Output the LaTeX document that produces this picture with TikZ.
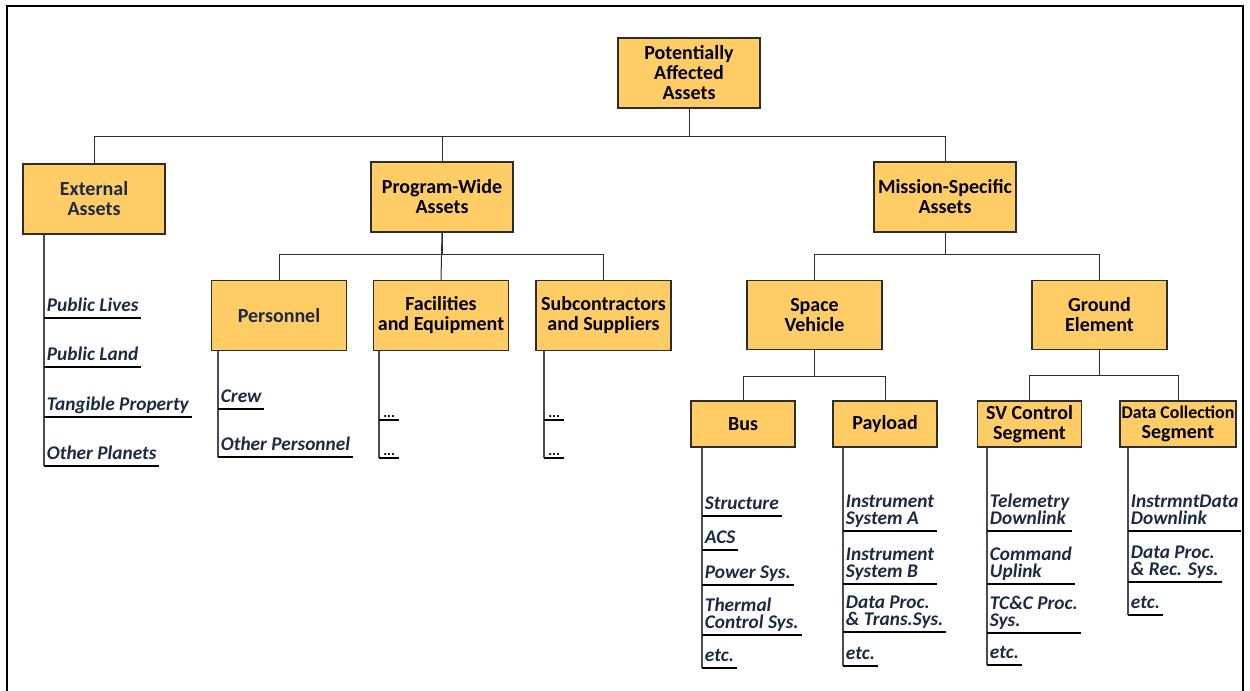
\documentclass[tikz,border=0pt]{standalone}
\usepackage{fontspec}
\setmainfont{Carlito}
\usepackage{xcolor}
\usetikzlibrary{positioning}
\definecolor{boxfill}{RGB}{255,204,102}
\definecolor{navy}{RGB}{28,42,70}
\definecolor{edge}{RGB}{45,45,45}

\begin{document}
\begin{tikzpicture}[x=0.75pt, y=-0.75pt,
    asset/.style={rectangle, draw=edge, fill=boxfill, line width=0.9pt, align=center, inner sep=1pt,
                  minimum width=106.5pt, minimum height=52.5pt, font=\fontsize{15}{15}\selectfont\bfseries},
    mid/.style={minimum width=101.25pt, minimum height=52pt},
    small/.style={minimum width=78pt, minimum height=34.5pt},
    item/.style={anchor=south west, align=left, inner xsep=2pt, inner ysep=4.5pt, text depth=0pt,
                 text=navy, font=\fontsize{14.5}{13.3}\selectfont\bfseries\itshape},
    dots/.style={item, text=black, font=\fontsize{11}{11}\selectfont\bfseries, inner xsep=3pt, inner ysep=2pt},
    link/.style={draw=edge, line width=0.75pt},
    stem/.style={draw=edge!85, line width=0.9pt},
    uline/.style={draw=black, line width=1.3pt}
]
\useasboundingbox (0,0) rectangle (1250,691);
\draw[black, line width=1.1pt] (7,691) -- (7,6) -- (1243,6) -- (1243,691);

% tree boxes
\node[asset]                        (top)    at (689,73)    {Potentially\\Affected\\Assets};
\node[asset, text=navy]             (ext)    at (94,199)    {External\\Assets};
\node[asset]                        (prog)   at (442,197)   {Program-Wide\\Assets};
\node[asset]                        (miss)   at (945,197)   {Mission-Specific\\Assets};
\node[asset, mid, text=navy]        (pers)   at (279,315.5) {Personnel};
\node[asset, mid]                   (fac)    at (441,315.5) {Facilities\\and Equipment};
\node[asset, mid]                   (sub)    at (603.5,315.5) {Subcontractors\\and Suppliers};
\node[asset, mid]                   (sv)     at (814.5,315) {Space\\Vehicle};
\node[asset, mid]                   (ground) at (1099.5,315) {Ground\\Element};
\node[asset, small]                 (bus)    at (743,424)   {Bus};
\node[asset, small]                 (pay)    at (885,424)   {Payload};
\node[asset, small]                 (svc)    at (1029.5,424) {SV Control\\Segment};
\node[asset, small, minimum width=87pt] (dcs) at (1178,424)
    {{\fontsize{13.4}{15}\selectfont Data Collection}\\Segment};

\draw[link] (top.south) -- ++(0,28) -| (ext.north);
\draw[link] (top.south) -- ++(0,28) -| (prog.north);
\draw[link] (top.south) -- ++(0,28) -| (miss.north);
\draw[link] (prog.south) -- ++(0,22) -| (pers.north);
\draw[link] (prog.south) -- (fac.north);
\draw[link] (prog.south) -- ++(0,22) -| (sub.north);
\draw[link] (miss.south) -- ++(0,22) -| (sv.north);
\draw[link] (miss.south) -- ++(0,22) -| (ground.north);
\draw[link] (sv.south) -- ++(0,26) -| (bus.north);
\draw[link] (sv.south) -- ++(0,26) -| (pay.north);
\draw[link] (ground.south) -- ++(0,25) -| (svc.north);
\draw[link] (ground.south) -- ++(0,25) -| (dcs.north);

% asset lists
\node[item] (e1) at (44,318) {Public Lives};
\node[item] (e2) at (44,367) {Public Land};
\node[item] (e3) at (44,417) {Tangible Property};
\node[item] (e4) at (44,466) {Other Planets};
\draw[stem] (ext.south -| e1.west) -- (e4.south west);

\node[item] (p1) at (218,409) {Crew};
\node[item] (p2) at (218,457) {Other Personnel};
\draw[stem] (pers.south -| p1.west) -- (p2.south west);

\node[dots] (f1) at (379,420) {...};
\node[dots] (f2) at (379,458) {...};
\draw[stem] (fac.south -| f1.west) -- (f2.south west);

\node[dots] (s1) at (544,420) {...};
\node[dots] (s2) at (544,458) {...};
\draw[stem] (sub.south -| s1.west) -- (s2.south west);

\node[item] (b1) at (702,516) {Structure};
\node[item] (b2) at (702,550) {ACS};
\node[item] (b3) at (702,585) {Power Sys.};
\node[item] (b4) at (702,635) {Thermal\\Control Sys.};
\node[item] (b5) at (702,668) {etc.};
\draw[stem] (bus.south -| b1.west) -- (b5.south west);

\node[item] (y1) at (843,531) {Instrument\\System A};
\node[item] (y2) at (843,584) {Instrument\\System B};
\node[item] (y3) at (843,632) {Data Proc.\\\& Trans.Sys.};
\node[item] (y4) at (843,666) {etc.};
\draw[stem] (pay.south -| y1.west) -- (y4.south west);

\node[item] (c1) at (987,531) {Telemetry\\Downlink};
\node[item] (c2) at (987,584) {Command\\Uplink};
\node[item] (c3) at (987,633) {TC\&C Proc.\\Sys.};
\node[item] (c4) at (987,665) {etc.};
\draw[stem] (svc.south -| c1.west) -- (c4.south west);

\node[item] (d1) at (1128,531) {InstrmntData\\Downlink};
\node[item] (d2) at (1128,582) {Data Proc.\\\& Rec. Sys.};
\node[item] (d3) at (1128,615) {etc.};
\draw[stem] (dcs.south -| d1.west) -- (d3.south west);

\foreach \n in {e1,e2,e3,e4,p1,p2,f1,f2,s1,s2,b1,b2,b3,b4,b5,y1,y2,y3,y4,c1,c2,c3,c4,d1,d2,d3}
  \draw[uline] (\n.south west) -- (\n.south east);

\end{tikzpicture}
\end{document}
